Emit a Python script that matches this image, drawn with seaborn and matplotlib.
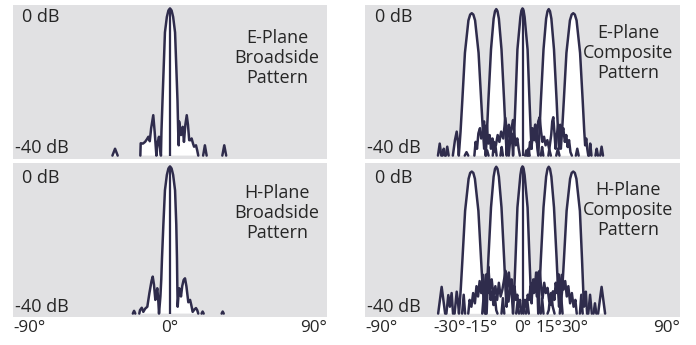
import numpy as np
import pandas as pd
import matplotlib
matplotlib.use("Agg")
import matplotlib.pyplot as plt
import matplotlib.transforms as mtransforms
from matplotlib import font_manager
import seaborn as sns

nan = np.nan

# ---------------- data (angle in degrees, level in dB) ----------------
FLOOR = -43.0

e_broad_deg = [-33.0, -31.5, -30.0, nan,
               -17.0, -16.8, -15.5, -14.3, -13.2, -12.4, -11.6, -10.8, -9.6, -8.8, -7.8, -7.0, -6.3, -5.6, -5.2,
               -4.9, -4.3, -3.6, -2.9, -1.8, -0.9, 0.0, 0.9, 1.8, 2.9, 3.6, 4.3, 4.7, 5.0, 5.2, 5.8, 6.3, 6.8,
               7.3, 8.0, 8.8, 9.6, 10.3, 11.0, 11.7, 12.4, 13.2, 13.8, 14.9, 15.6, 16.2, nan,
               19.0, 20.0, 21.0, nan,
               30.0, 31.1, 32.2]
e_broad_db = [-43, -41, -43, nan,
              -43, -39.4, -39.5, -39, -38.2, -37.5, -38.8, -35, -31.2, -36, -43, -39, -37.5, -41, -43,
              -36, -27, -17, -7, -2.5, -0.6, 0.0, -0.6, -2.5, -7, -17, -27, -36, -40, -33, -35, -37, -35.5,
              -34.6, -39, -34, -31.2, -34, -38.5, -38.5, -38, -39.5, -40.4, -40, -41.5, -43, nan,
              -43, -40, -43, nan,
              -43, -40, -43]

h_broad_deg = [-21.3, -20.6, -19.9, nan,
               -17.6, -17.2, -16.2, -15.3, -14.3, -13.0, -11.8, -10.6, -9.9, -9.2, -8.4, -7.8, -7.3, -6.8, -6.3,
               -5.5, -5.0, -4.6, -3.8, -2.9, -1.8, -0.9, 0.0, 0.9, 1.8, 2.9, 3.6, 4.0, 4.2, 4.4, 4.8, 5.3, 5.8,
               6.3, 7.0, 7.8, 8.6, 9.4, 10.5, 11.5, 12.2, 13.0, 14.0, 14.9, 15.6, 16.2, nan,
               18.1, 18.7, 19.3, nan,
               29.6, 30.2, 30.8]
h_broad_db = [-43, -42.2, -43, nan,
              -43, -42, -41.3, -42.5, -41.6, -41, -37, -33.5, -32.2, -34.5, -39, -37, -35.6, -38.5, -43,
              -38, -33, -27, -17, -7, -2.5, -0.6, 0.0, -0.6, -2.5, -7, -17, -27, -35, -41, -38, -35.6, -36.5,
              -38, -35, -33.2, -32.7, -35, -39.7, -39, -40.5, -42.5, -41.8, -41.4, -42, -43, nan,
              -43, -42.4, -43, nan,
              -43, -42.4, -43]

# E-plane composite: five scanned beams
e_m29_deg = [-48.3, -47.3, -46.4, nan, -45.7, -45.0, -44.3, nan, -43.8, -43.0, -42.2, nan,
             -39.8, -38.6, -37.6, -36.9, -36.4, -35.4, -34.4, -32.9, -30.9, -29.9, -29.0, -28.1, -27.1, -25.1,
             -23.6, -22.6, -21.9, -21.2, -20.4, -19.6, -18.8, -18.0, -17.2, -16.4, -15.6, -14.8, nan,
             -12.6, -11.9, -11.2]
e_m29_db = [-43, -39.5, -43, nan, -43, -41, -43, nan, -43, -40.4, -43, nan,
            -43, -38.5, -36, -39, -43, -36, -27, -13, -3.5, -1.8, -1.4, -1.8, -3.5, -13,
            -27, -36, -41, -36, -34, -39.5, -37, -41, -38, -42, -39.5, -43, nan,
            -43, -40.5, -43]

e_m15_deg = [-33.0, -32.0, -31.0, nan,
             -27.5, -26.8, -26.0, -25.2, -24.3, -23.6, -22.8, -22.0, -21.3, -21.0, -20.3, -19.5, -18.0, -16.5,
             -15.7, -15.0, -14.3, -13.5, -12.0, -10.5, -9.7, -9.0, -8.5, -7.8, -7.0, -6.3, -5.4, -4.6, -3.8,
             -3.0, -2.2, -1.5, nan,
             2.5, 3.3, 4.1]
e_m15_db = [-43, -42, -43, nan,
            -43, -39, -41, -36.5, -35, -38, -37, -33, -38, -43, -36, -27, -12, -3,
            -0.8, -0.2, -0.8, -3, -12, -27, -36, -43, -37, -34, -38, -35, -32.6, -37, -40,
            -38, -41, -43, nan,
            -43, -41, -43]

e_0_deg = [-21.0, -20.2, -19.4, nan,
           -17.0, -16.3, -15.2, -14.2, -13.2, -12.2, -11.0, -9.8, -8.8, -7.8, -7.0, -6.2, -5.6, -5.4, -4.7,
           -4.0, -2.9, -1.2, -0.6, 0.0, 0.6, 1.2, 2.9, 4.0, 4.7, 5.2, 5.6, 6.3, 7.2, 8.0, 9.0, 9.8, 10.6,
           11.4, 12.3, 13.2, 14.2, 15.2, 16.2, nan,
           19.3, 20.2, 21.1]
e_0_db = [-43, -41.5, -43, nan,
          -43, -39, -40, -37, -39, -36, -38, -32, -37, -43, -38, -36.5, -41, -43, -36,
          -27, -12, -2.5, -0.6, 0.0, -0.6, -2.5, -12, -27, -36, -41, -35, -38, -34, -39, -33, -31.8, -36,
          -39, -37.5, -40, -38.5, -41, -43, nan,
          -43, -41, -43]

e_15_deg = [1.5, 2.2, 3.0, nan,
            3.5, 4.3, 5.1, 5.9, 6.7, 7.4, 8.0, 8.5, 9.0, 9.7, 10.5, 12.0, 13.5, 14.3, 15.0, 15.7, 16.5,
            18.0, 19.5, 20.3, 20.9, 21.6, 22.4, 23.3, 24.2, 25.0, 25.8, 26.6, 27.4, 28.2, nan,
            30.5, 31.3, 32.1]
e_15_db = [-43, -41.5, -43, nan,
           -43, -39, -41, -36, -38.5, -34, -37.5, -41, -43, -36, -27, -12, -3, -0.8, -0.2, -0.8, -3,
           -12, -27, -36, -41, -34, -37, -35, -39, -37, -40.5, -38.5, -42, -43, nan,
           -43, -41, -43]

e_29_deg = [10.5, 11.2, 11.9, nan,
            14.8, 15.6, 16.4, 17.0, 17.6, 18.2, 18.9, 19.6, 20.4, 21.4, 21.9, 22.6, 23.6, 25.1, 27.1, 28.1,
            29.0, 29.9, 30.9, 32.9, 34.4, 35.3, 35.8, 36.4, 37.0, 37.6, nan,
            38.0, 38.7, 39.4, nan, 41.7, 42.4, 43.1, nan, 44.4, 45.2, 46.0]
e_29_db = [-43, -40.5, -43, nan,
           -43, -40, -37, -33, -31.8, -36, -41, -37, -34, -34.5, -41, -36, -27, -13, -3.5, -1.8,
           -1.4, -1.8, -3.5, -13, -27, -36, -40, -38, -41, -43, nan,
           -43, -39.5, -43, nan, -43, -41, -43, nan, -43, -40.4, -43]

# H-plane composite
h_m29_deg = [-48.2, -46.2, -44.2, nan, -43.5, -42.4, -41.5, -40.5, -39.7, nan,
             -38.8, -37.6, -36.8, -36.3, -35.3, -34.3, -32.8, -30.8, -29.9, -29.0, -28.1, -27.2, -25.2, -23.7,
             -22.7, -22.0, -21.4, -20.6, -19.8, -19.0, -18.2, -17.4, -16.6, -15.8, -15.0, -14.3, nan,
             -12.0, -11.2, -10.4]
h_m29_db = [-43, -35.2, -43, nan, -43, -37.6, -41, -37, -43, nan,
            -43, -36.6, -40, -43, -36, -27, -13, -3.6, -1.9, -1.5, -1.9, -3.6, -13, -27,
            -36, -40, -35, -31.5, -37, -34, -39, -36.5, -40.5, -38, -42, -43, nan,
            -43, -38.5, -43]

h_m15_deg = [-34.5, -33.6, -32.8, nan,
             -31.0, -30.2, -29.2, -28.2, -27.2, -26.3, -25.4, -24.5, -23.6, -22.4, -21.6, -21.0, -20.3, -19.5,
             -18.0, -16.5, -15.7, -15.0, -14.3, -13.5, -12.0, -10.5, -9.7, -9.1, -8.5, -7.8, -7.0, -6.2, -5.4,
             -4.6, -3.8, -3.0, -2.2, -1.4, -0.6, nan,
             2.0, 2.8, 3.6]
h_m15_db = [-43, -37.5, -43, nan,
            -43, -39, -41, -37, -40, -35, -38, -33.5, -37, -31.7, -38, -43, -36, -27,
            -12, -3, -0.7, -0.1, -0.7, -3, -12, -27, -36, -41, -34, -31, -36, -33, -37,
            -35, -39, -37.5, -41, -39, -43, nan,
            -43, -39.5, -43]

h_0_deg = [-23.0, -22.2, -21.4, nan,
           -20.5, -19.5, -18.6, -17.6, -16.6, -15.5, -14.5, -13.5, -12.5, -11.5, -10.5, -9.7, -8.8, -8.0, -7.2,
           -6.4, -5.8, -5.4, -4.7, -4.0, -2.9, -1.2, -0.6, 0.0, 0.6, 1.2, 2.9, 4.0, 4.7, 5.2, 5.8, 6.5, 7.3,
           8.2, 9.0, 9.8, 10.6, 11.5, 12.4, 13.3, 14.3, 15.3, 16.3, 17.3, 18.3, nan,
           21.3, 22.1, 22.9]
h_0_db = [-43, -38, -43, nan,
          -43, -29.3, -36, -33, -38, -35, -39, -34, -38, -36, -33, -30.5, -36, -39.5, -36,
          -34, -40, -43, -36, -27, -12, -2.5, -0.6, 0.0, -0.6, -2.5, -12, -27, -36, -40, -34, -37, -33,
          -38, -31, -30.5, -35, -38.5, -34, -37, -35.5, -39.5, -37, -41, -43, nan,
          -43, -38, -43]

h_15_deg = [-3.6, -2.8, -2.0, nan,
            0.6, 1.4, 2.2, 3.0, 3.8, 4.6, 5.4, 6.2, 7.0, 7.8, 8.5, 8.8, 9.0, 9.7, 10.5, 12.0, 13.5, 14.3,
            15.0, 15.7, 16.5, 18.0, 19.5, 20.3, 20.9, 21.5, 22.4, 23.4, 24.4, 25.3, 26.2, 27.2, 28.2, 29.2,
            30.2, 31.0, nan,
            32.8, 33.6, 34.4]
h_15_db = [-43, -39.5, -43, nan,
           -43, -39, -41, -37.5, -39, -35, -37, -33, -36, -31, -34, -40, -43, -36, -27, -12, -3, -0.7,
           -0.1, -0.7, -3, -12, -27, -36, -41, -36, -31.7, -36, -33.5, -38, -35, -40, -37, -41,
           -39, -43, nan,
           -43, -37.5, -43]

h_29_deg = [10.4, 11.2, 12.0, nan,
            14.3, 15.0, 15.8, 16.6, 17.4, 18.2, 19.0, 19.8, 20.6, 21.4, 22.0, 22.7, 23.7, 25.2, 27.2, 28.1,
            29.0, 29.9, 30.8, 32.8, 34.0, 34.7, 35.1, 35.6, 36.2, 36.9, nan,
            37.6, 38.6, 39.6, nan, 40.6, 41.4, 42.2, nan, 43.2, 45.2, 47.2]
h_29_db = [-43, -38.5, -43, nan,
           -43, -42, -38, -40.5, -36.5, -39, -34, -37, -31.5, -35, -40, -36, -27, -13, -3.6, -1.9,
           -1.5, -1.9, -3.6, -13, -27, -36, -41, -40, -36.6, -43, nan,
           -43, -37.5, -43, nan, -43, -40, -43, nan, -43, -35.2, -43]

left_ticks = [-90, 0, 90]
left_tick_labels = ["-90°", "0°", "90°"]
right_ticks = [-90, -30, -15, 0, 15, 30, 90]
right_tick_labels = ["-90°", "-30°", "-15°", "0°", "15°", "30°", "90°"]
level_labels = ["0 dB", "-40 dB"]
panel_titles = ["E-Plane\nBroadside\nPattern", "E-Plane\nComposite\nPattern",
                "H-Plane\nBroadside\nPattern", "H-Plane\nComposite\nPattern"]

# ---------------- styling ----------------
sns.set_theme(style="white")
available = {f.name for f in font_manager.fontManager.ttflist}
fams = [f for f in ["Open Sans", "Noto Sans", "Lato", "Liberation Sans"] if f in available]
plt.rcParams["font.family"] = fams + ["DejaVu Sans"]

BG = "#e1e1e3"
NAVY = "#2f2c4c"
TXT = "#262626"
LW = 1.8

fig = plt.figure(figsize=(6.96, 3.45), dpi=100)
W, H = 696, 345


def axes_px(x0, y0, x1, y1):
    return fig.add_axes([x0 / W, 1 - y1 / H, (x1 - x0) / W, (y1 - y0) / H])


ax_eb = axes_px(13, 5, 327, 159)
ax_ec = axes_px(365, 5, 680, 159)
ax_hb = axes_px(13, 163, 327, 317)
ax_hc = axes_px(365, 163, 680, 317)


def to_frame(deg, db):
    d = np.asarray(deg, float)
    v = np.asarray(db, float)
    seg = np.cumsum(np.isnan(d))
    df = pd.DataFrame({"deg": d, "db": v, "seg": seg})
    return df.dropna()


def draw(ax, curves):
    ax.set_facecolor(BG)
    for deg, db in curves:
        d = np.asarray(deg, float)
        v = np.asarray(db, float)
        ax.fill_between(d, v, FLOOR, color="white", lw=0, zorder=1)
    for deg, db in curves:
        df = to_frame(deg, db)
        sns.lineplot(data=df, x="deg", y="db", units="seg", estimator=None, sort=False,
                     color=NAVY, linewidth=LW, ax=ax, legend=False, zorder=3)
        dfa = df.reset_index(drop=True)
        k = dfa["db"].idxmax()
        if abs(dfa.loc[k, "deg"]) < 1:
            ax.vlines(dfa.loc[k, "deg"], FLOOR, dfa.loc[k, "db"], color=NAVY, lw=LW * 0.9, zorder=3)
    ax.set_xlim(-90, 90)
    ax.set_ylim(-44, 1)
    ax.set_xlabel("")
    ax.set_ylabel("")
    ax.set_yticks([])
    for s in ax.spines.values():
        s.set_visible(False)


draw(ax_eb, [(e_broad_deg, e_broad_db)])
draw(ax_hb, [(h_broad_deg, h_broad_db)])
draw(ax_ec, [(e_m29_deg, e_m29_db), (e_m15_deg, e_m15_db), (e_0_deg, e_0_db),
             (e_15_deg, e_15_db), (e_29_deg, e_29_db)])
draw(ax_hc, [(h_m29_deg, h_m29_db), (h_m15_deg, h_m15_db), (h_0_deg, h_0_db),
             (h_15_deg, h_15_db), (h_29_deg, h_29_db)])

FS = 13
FS_TICK = 12.3
for ax in (ax_eb, ax_ec):
    ax.set_xticks([])
for ax, ticks, labs in ((ax_hb, left_ticks, left_tick_labels), (ax_hc, right_ticks, right_tick_labels)):
    ax.set_xticks(ticks)
    ax.set_xticklabels(labs, fontsize=FS_TICK, color=TXT)
    ax.tick_params(axis="x", length=0, pad=2)
    tl = ax.get_xticklabels()
    tl[0].set_ha("left")
    tl[-1].set_ha("right")
# the crowded inner negative labels sit left of their ticks, as in the reference
hc_labels = ax_hc.get_xticklabels()
hc_labels[1].set_ha("right")
hc_labels[1].set_transform(hc_labels[1].get_transform()
                           + mtransforms.ScaledTranslation(-4 / 100, 0, fig.dpi_scale_trans))
hc_labels[2].set_ha("right")
hc_labels[2].set_transform(hc_labels[2].get_transform()
                           + mtransforms.ScaledTranslation(1 / 100, 0, fig.dpi_scale_trans))

level_pos = {ax_eb: (0.029, 0.922, 0.006, 0.071), ax_ec: (0.032, 0.922, 0.006, 0.071),
             ax_hb: (0.029, 0.90, 0.006, 0.065), ax_hc: (0.032, 0.90, 0.006, 0.065)}
for ax, (x0, y0, x1, y1) in level_pos.items():
    ax.text(x0, y0, level_labels[0], transform=ax.transAxes, fontsize=FS, color=TXT,
            ha="left", va="center", zorder=5)
    ax.text(x1, y1, level_labels[1], transform=ax.transAxes, fontsize=FS, color=TXT,
            ha="left", va="center", zorder=5)

title_pos = [(ax_eb, 0.841, 0.656), (ax_ec, 0.835, 0.688), (ax_hb, 0.841, 0.675), (ax_hc, 0.835, 0.695)]
for (ax, x, y), t in zip(title_pos, panel_titles):
    ax.text(x, y, t, transform=ax.transAxes, fontsize=FS, color=TXT, ha="center", va="center",
            linespacing=1.15, zorder=5)

fig.savefig("out.png", dpi=100, facecolor="white")
